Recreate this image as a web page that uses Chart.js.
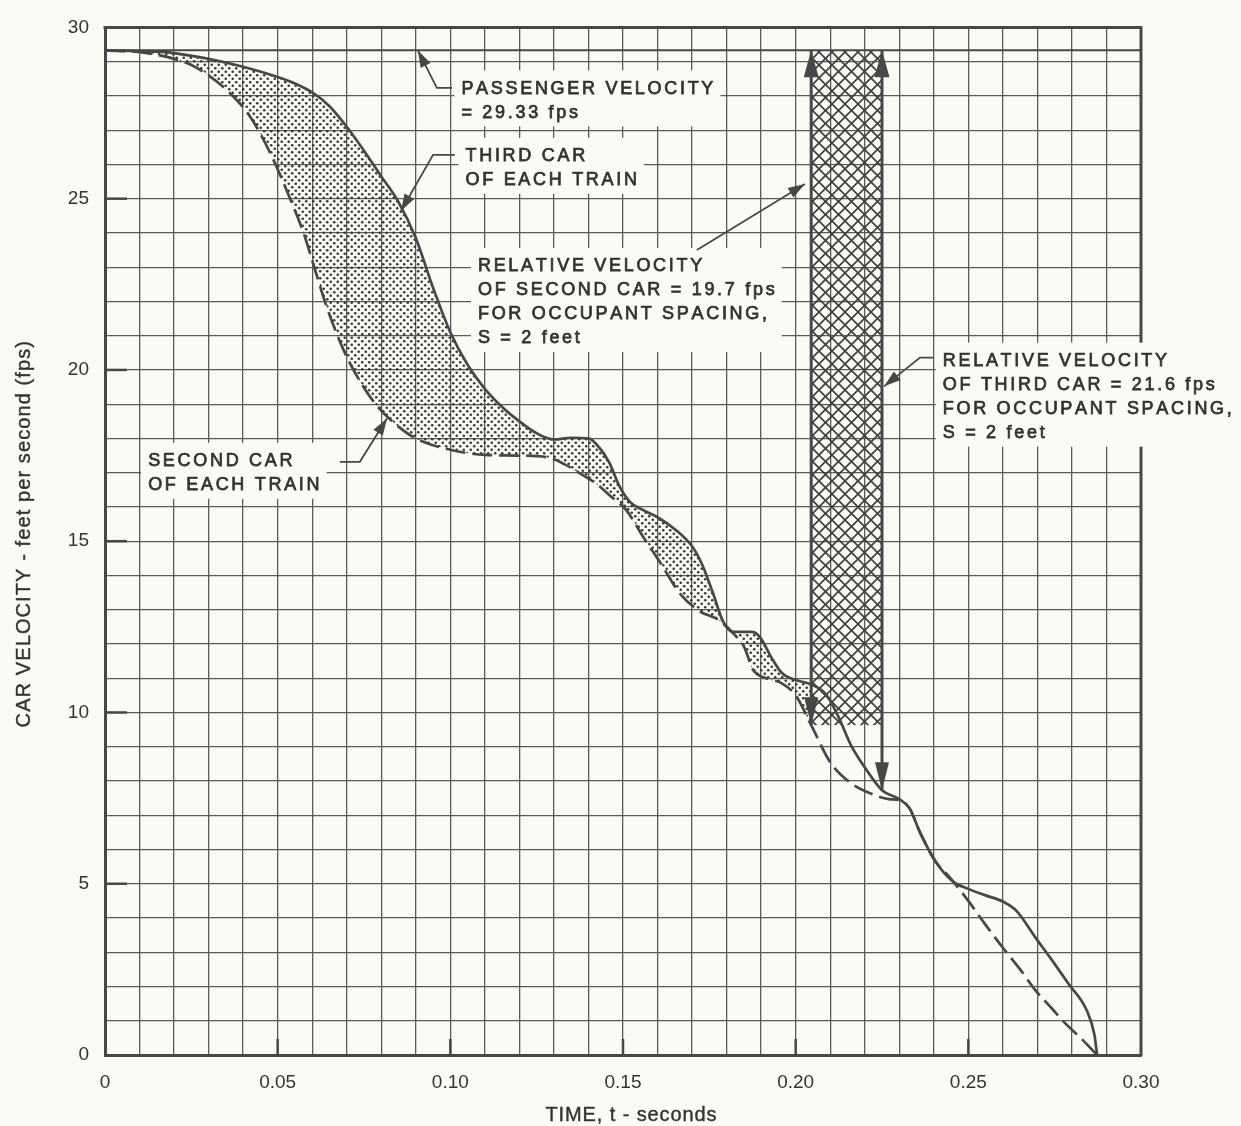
<!DOCTYPE html>
<html>
<head>
<meta charset="utf-8">
<title>Car velocity versus time</title>
<script src="https://cdn.jsdelivr.net/npm/chart.js@4.4.1/dist/chart.umd.min.js"></script>
<style>
  html, body { margin: 0; padding: 0; background: #fbfbf6; }
  canvas { display: block; }
</style>
</head>
<body>
<canvas id="chart" width="1241" height="1126"></canvas>
<script>
// Third car of each train (solid curve): time in seconds, velocity in fps
const thirdCarTime = [0, 0.01, 0.02, 0.03, 0.04, 0.05, 0.055, 0.06, 0.065, 0.07, 0.075, 0.08, 0.085, 0.09, 0.095, 0.1,
  0.105, 0.11, 0.115, 0.12, 0.125, 0.13, 0.135, 0.14, 0.143, 0.146, 0.149, 0.152, 0.156, 0.16, 0.165, 0.17, 0.173,
  0.176, 0.179, 0.182, 0.1875, 0.19, 0.193, 0.196, 0.2, 0.205, 0.209, 0.2125, 0.216, 0.22, 0.225, 0.23, 0.233, 0.236,
  0.2405, 0.2455, 0.25, 0.255, 0.26, 0.264, 0.2695, 0.274, 0.279, 0.2843, 0.2865, 0.2873];
const thirdCarVelocity = [29.33, 29.31, 29.25, 29.08, 28.85, 28.55, 28.36, 28.1, 27.7, 27.1, 26.4, 25.65, 24.9, 23.85,
  22.4, 21.1, 20.15, 19.45, 18.92, 18.5, 18.15, 17.97, 18.02, 18.0, 17.75, 17.3, 16.6, 16.15, 15.9, 15.7, 15.35, 14.85,
  14.3, 13.5, 12.65, 12.35, 12.35, 12.15, 11.6, 11.15, 10.95, 10.8, 10.5, 9.85, 9.05, 8.4, 7.73, 7.47, 7.2, 6.5, 5.65,
  5.07, 4.85, 4.66, 4.48, 4.2, 3.42, 2.8, 2.08, 1.3, 0.6, 0];

// Second car of each train (dashed curve)
const secondCarTime = [0, 0.01, 0.015, 0.02, 0.025, 0.03, 0.036, 0.042, 0.048, 0.0536, 0.0575, 0.06, 0.064, 0.069,
  0.074, 0.0786, 0.0834, 0.09, 0.1, 0.11, 0.12, 0.129, 0.133, 0.138, 0.142, 0.146, 0.151, 0.156, 0.161, 0.1665, 0.172,
  0.178, 0.182, 0.185, 0.1877, 0.1915, 0.196, 0.2, 0.2045, 0.21, 0.2157, 0.2225, 0.227, 0.23, 0.233, 0.236, 0.2405,
  0.2445, 0.25, 0.255, 0.26, 0.265, 0.2695, 0.274, 0.278, 0.283, 0.2873];
const secondCarVelocity = [29.33, 29.28, 29.2, 29.08, 28.9, 28.6, 28.1, 27.4, 26.3, 25.0, 24.0, 23.2, 21.9, 20.6,
  19.64, 18.97, 18.48, 18.0, 17.67, 17.52, 17.5, 17.43, 17.25, 16.95, 16.7, 16.35, 15.9, 15.1, 14.34, 13.47, 12.97,
  12.68, 12.3, 11.93, 11.24, 11.0, 10.85, 10.5, 9.63, 8.55, 7.96, 7.6, 7.47, 7.44, 7.2, 6.5, 5.65, 5.2, 4.5, 3.8, 3.13,
  2.5, 1.88, 1.38, 0.93, 0.45, 0];

// Passenger velocity and relative velocities at impact (second car, third car)
const passengerVelocity = 29.33;
const relativeVelocity = [19.7, 21.6];
const relativeTime = [0.2045, 0.225];

// Axis labels
const timeTickLabels = ['0', '0.05', '0.10', '0.15', '0.20', '0.25', '0.30'];
const velocityTickLabels = ['0', '5', '10', '15', '20', '25', '30'];

const PAPER = '#fbfbf6';
const INK = '#474747';
const TEXT = '#333333';
const GRID = '#5a5a5a';
const FONT = '"Liberation Sans", Arial, Helvetica, sans-serif';

function toPoints(ts, vs) { return ts.map((t, i) => ({ x: t, y: vs[i] })); }

function makeDotPattern() {
  const c = document.createElement('canvas');
  c.width = 7; c.height = 7;
  const g = c.getContext('2d');
  g.fillStyle = '#383838';
  [[1.75, 1.75], [5.25, 5.25]].forEach(([px, py]) => {
    g.beginPath(); g.arc(px, py, 1.3, 0, Math.PI * 2); g.fill();
  });
  return g.createPattern(c, 'repeat');
}

function makeHatchPattern() {
  const s = 13;
  const c = document.createElement('canvas');
  c.width = s; c.height = s;
  const g = c.getContext('2d');
  g.strokeStyle = '#404040';
  g.lineWidth = 1.7;
  for (const d of [-s, 0, s]) {
    g.beginPath(); g.moveTo(d, 0); g.lineTo(d + s, s); g.stroke();
    g.beginPath(); g.moveTo(d + s, 0); g.lineTo(d, s); g.stroke();
  }
  return g.createPattern(c, 'repeat');
}

const dotPattern = makeDotPattern();
const hatchPattern = makeHatchPattern();

function textWidth(ctx, text, spacing) {
  let w = 0;
  for (const ch of text) w += ctx.measureText(ch).width + spacing;
  return w - spacing;
}
function drawSpaced(ctx, text, x, y, spacing, bold) {
  for (const ch of text) {
    ctx.fillText(ch, x, y);
    if (bold) ctx.strokeText(ch, x, y);
    x += ctx.measureText(ch).width + spacing;
  }
}
function arrowHead(ctx, tip, from, len, half) {
  const dx = tip.x - from.x, dy = tip.y - from.y, d = Math.hypot(dx, dy) || 1;
  const ux = dx / d, uy = dy / d;
  const bx = tip.x - ux * len, by = tip.y - uy * len;
  ctx.beginPath();
  ctx.moveTo(tip.x, tip.y);
  ctx.lineTo(bx - uy * half, by + ux * half);
  ctx.lineTo(bx + uy * half, by - ux * half);
  ctx.closePath();
  ctx.fill();
}

// Callout notes: text block anchored at [time, velocity] of the first line's middle,
// leader runs from the text to the arrow tip (last point)
const notes = [
  { lines: ['PASSENGER VELOCITY', '= ' + passengerVelocity.toFixed(2) + ' fps'], at: [0.1032, 28.25],
    leader: [[0.1005, 28.234], [0.0961, 28.234], [0.0906, passengerVelocity]] },
  { lines: ['THIRD CAR', 'OF EACH TRAIN'], at: [0.1044, 26.28],
    leader: [[0.1013, 26.28], [0.0950, 26.28], [0.0857, 24.64]] },
  { lines: ['RELATIVE VELOCITY', 'OF SECOND CAR = ' + relativeVelocity[0] + ' fps', 'FOR OCCUPANT SPACING,', 'S = 2 feet'],
    at: [0.1080, 23.065], leader: [[0.1714, 23.5], [0.2027, 25.43]] },
  { lines: ['SECOND CAR', 'OF EACH TRAIN'], at: [0.0125, 17.375],
    leader: [[0.0680, 17.317], [0.0738, 17.317], [0.0817, 18.59]] },
  { lines: ['RELATIVE VELOCITY', 'OF THIRD CAR = ' + relativeVelocity[1] + ' fps', 'FOR OCCUPANT SPACING,', 'S = 2 feet'],
    at: [0.2426, 20.30], leader: [[0.2398, 20.36], [0.2360, 20.36], [0.2256, 19.52]] }
];

const overlay = {
  id: 'overlay',
  beforeDatasetsDraw(chart) {
    const { ctx, chartArea: area, scales: { x, y } } = chart;
    // dotted band between the two car curves, up to the second-car impact time
    const third = chart.getDatasetMeta(0).dataset;
    const second = chart.getDatasetMeta(1).dataset;
    ctx.save();
    ctx.beginPath();
    ctx.rect(area.left, area.top, x.getPixelForValue(relativeTime[0]) - area.left, area.height);
    ctx.clip();
    ctx.beginPath();
    try {
      third.updateControlPoints(area, 'x');
      second.updateControlPoints(area, 'x');
      third.pathSegment(ctx, third.segments[0], { move: true });
      second.pathSegment(ctx, second.segments[0], { move: false, reverse: true });
    } catch (e) {
      const a = chart.getDatasetMeta(0).data, b = chart.getDatasetMeta(1).data;
      ctx.moveTo(a[0].x, a[0].y);
      a.forEach(p => ctx.lineTo(p.x, p.y));
      for (let i = b.length - 1; i >= 0; i--) ctx.lineTo(b[i].x, b[i].y);
    }
    ctx.closePath();
    ctx.fillStyle = dotPattern;
    ctx.fill();
    ctx.restore();

    // cross-hatched band for the relative velocities
    const x0 = x.getPixelForValue(relativeTime[0]);
    const x1 = x.getPixelForValue(relativeTime[1]);
    const yTop = y.getPixelForValue(passengerVelocity);
    const yBot = y.getPixelForValue(passengerVelocity - relativeVelocity[0]);
    ctx.save();
    ctx.fillStyle = hatchPattern;
    ctx.fillRect(x0, yTop, x1 - x0, yBot - yTop);
    ctx.restore();
  },
  afterDatasetsDraw(chart) {
    const { ctx, chartArea: area, scales: { x, y } } = chart;
    ctx.save();
    ctx.strokeStyle = INK;
    ctx.fillStyle = INK;
    ctx.lineCap = 'butt';

    // top and right frame
    ctx.lineWidth = 3;
    ctx.beginPath();
    ctx.moveTo(area.left - 1.5, area.top);
    ctx.lineTo(area.right, area.top);
    ctx.lineTo(area.right, area.bottom + 1.5);
    ctx.stroke();

    // heavier marks at labelled ticks
    ctx.lineWidth = 2.5;
    velocityTickLabels.map(Number).filter(v => v > 0 && v < 30).forEach(v => {
      const py = y.getPixelForValue(v);
      ctx.beginPath(); ctx.moveTo(area.left, py); ctx.lineTo(area.left + 22, py); ctx.stroke();
    });
    timeTickLabels.map(Number).filter(t => t > 0 && t < 0.3).forEach(t => {
      const px = x.getPixelForValue(t);
      ctx.beginPath(); ctx.moveTo(px, area.bottom); ctx.lineTo(px, area.bottom - 16); ctx.stroke();
    });

    // arrow heads on the relative velocity bars
    relativeTime.forEach((t, i) => {
      const px = x.getPixelForValue(t);
      const top = { x: px, y: y.getPixelForValue(passengerVelocity) };
      const bot = { x: px, y: y.getPixelForValue(passengerVelocity - relativeVelocity[i]) };
      arrowHead(ctx, top, bot, 27, 7.5);
      arrowHead(ctx, bot, top, 28, 7);
    });

    // callout boxes, text and leaders
    const spacing = 2.7, leading = 24;
    ctx.font = '18px ' + FONT;
    notes.forEach(n => {
      const left = x.getPixelForValue(n.at[0]);
      const mid = y.getPixelForValue(n.at[1]);
      const w = Math.max(...n.lines.map(s => textWidth(ctx, s, spacing)));
      ctx.fillStyle = PAPER;
      ctx.fillRect(left - 7, mid - 17, w + 14, (n.lines.length - 1) * leading + 32);
    });
    notes.forEach(n => {
      const left = x.getPixelForValue(n.at[0]);
      const mid = y.getPixelForValue(n.at[1]);
      ctx.fillStyle = TEXT;
      ctx.strokeStyle = TEXT;
      ctx.lineWidth = 0.75;
      ctx.textBaseline = 'alphabetic';
      n.lines.forEach((s, i) => drawSpaced(ctx, s, left, mid + 6.5 + i * leading, spacing, true));
      const pts = n.leader.map(([t, v]) => ({ x: x.getPixelForValue(t), y: y.getPixelForValue(v) }));
      ctx.strokeStyle = INK;
      ctx.fillStyle = INK;
      ctx.lineWidth = 1.8;
      ctx.beginPath();
      pts.forEach((p, i) => (i ? ctx.lineTo(p.x, p.y) : ctx.moveTo(p.x, p.y)));
      ctx.stroke();
      arrowHead(ctx, pts[pts.length - 1], pts[pts.length - 2], 17, 5.5);
    });
    ctx.restore();
  },
  afterDraw(chart) {
    const { ctx, chartArea: area } = chart;
    ctx.save();
    ctx.fillStyle = TEXT;
    ctx.strokeStyle = TEXT;
    ctx.lineWidth = 0.4;
    ctx.font = '20px ' + FONT;
    ctx.textBaseline = 'alphabetic';
    const xt = 'TIME, t - seconds';
    const wx = textWidth(ctx, xt, 0.9);
    drawSpaced(ctx, xt, (area.left + area.right) / 2 + 8 - wx / 2, chart.height - 5, 0.9, true);
    const yt = 'CAR VELOCITY - feet per second (fps)';
    const wy = textWidth(ctx, yt, 1.1);
    ctx.translate(30, (area.top + area.bottom) / 2 - 7);
    ctx.rotate(-Math.PI / 2);
    drawSpaced(ctx, yt, -wy / 2, 0, 1.1, true);
    ctx.restore();
  }
};

new Chart(document.getElementById('chart'), {
  type: 'line',
  data: {
    datasets: [
      { label: 'Third car', data: toPoints(thirdCarTime, thirdCarVelocity), borderColor: INK, borderWidth: 2.7,
        cubicInterpolationMode: 'monotone', fill: false, order: 1 },
      { label: 'Second car', data: toPoints(secondCarTime, secondCarVelocity), borderColor: INK, borderWidth: 2.7,
        borderDash: [20, 7], cubicInterpolationMode: 'monotone', fill: false, order: 2 },
      { label: 'Passenger velocity', data: [{ x: 0, y: passengerVelocity }, { x: 0.3, y: passengerVelocity }],
        borderColor: INK, borderWidth: 2, tension: 0, fill: false, order: 3 },
      { label: 'Second car relative', data: [{ x: relativeTime[0], y: passengerVelocity },
        { x: relativeTime[0], y: passengerVelocity - relativeVelocity[0] }],
        borderColor: INK, borderWidth: 3, tension: 0, fill: false, order: 0 },
      { label: 'Third car relative', data: [{ x: relativeTime[1], y: passengerVelocity },
        { x: relativeTime[1], y: passengerVelocity - relativeVelocity[1] }],
        borderColor: INK, borderWidth: 3, tension: 0, fill: false, order: 0 }
    ]
  },
  options: {
    responsive: false,
    animation: false,
    events: [],
    layout: { padding: { left: 0, right: 100, top: 19, bottom: 0 } },
    elements: { point: { radius: 0 } },
    plugins: { legend: { display: false }, tooltip: { enabled: false } },
    scales: {
      x: {
        type: 'linear', min: 0, max: 0.3,
        afterFit: s => { s.height = 71; },
        grid: { color: GRID, lineWidth: 1.3, drawTicks: false },
        border: { display: true, color: INK, width: 3 },
        ticks: {
          stepSize: 0.01, autoSkip: false, maxRotation: 0, padding: 16, color: TEXT,
          font: { family: FONT, size: 19 },
          callback: v => { const k = Math.round(v * 100); return k % 5 === 0 ? timeTickLabels[k / 5] : ''; }
        }
      },
      y: {
        type: 'linear', min: 0, max: 30,
        afterFit: s => { s.width = 105; },
        grid: { color: GRID, lineWidth: 1.3, drawTicks: false },
        border: { display: true, color: INK, width: 3 },
        ticks: {
          stepSize: 1, autoSkip: false, padding: 16, color: TEXT,
          font: { family: FONT, size: 19 },
          callback: v => { const k = Math.round(v); return k % 5 === 0 ? velocityTickLabels[k / 5] : ''; }
        }
      }
    }
  },
  plugins: [overlay]
});
</script>
</body>
</html>
